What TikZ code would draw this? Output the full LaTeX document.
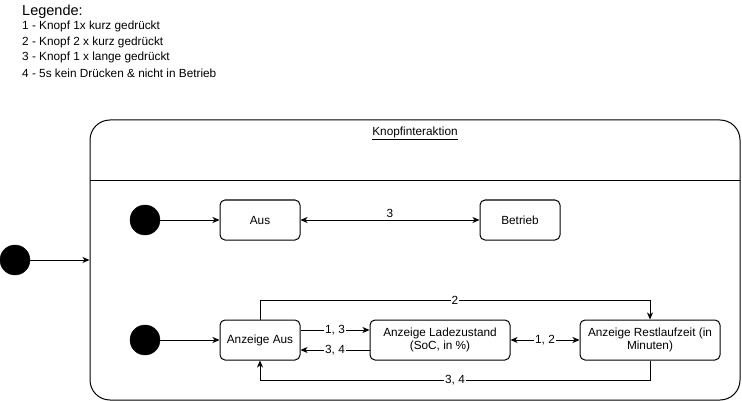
\documentclass[tikz,border=0pt]{standalone}
\usepackage{fontspec}
\setmainfont{Liberation Sans}
\usetikzlibrary{arrows.meta}
\begin{document}
\begin{tikzpicture}[x=1pt,y=-1pt,
  lw/.style={line width=1pt},
  txt/.style={font=\fontsize{11.8}{13.5}\selectfont},
  statebox/.style={draw, lw, txt, rounded corners=5pt, minimum width=80pt, minimum height=40pt, inner sep=0pt, align=center},
  widebox/.style={statebox, minimum width=140pt},
  startdot/.style={circle, fill=black, draw=black, minimum size=30pt, inner sep=0pt},
  conn/.style={lw, -{Stealth[length=7pt,width=6pt,inset=2pt]}},
  biconn/.style={lw, {Stealth[length=7pt,width=6pt,inset=2pt]}-{Stealth[length=7pt,width=6pt,inset=2pt]}},
  lbl/.style={fill=white, inner sep=1pt, txt},
  legtext/.style={anchor=west, inner sep=0pt, txt}
]
\useasboundingbox (0,0) rectangle (742,401);

% legend
\node[legtext, font=\fontsize{14.5}{16}\selectfont] (leg0) at (22,12) {Legende:};
\node[legtext] (leg1) at (22,26.5) {1 - Knopf 1x kurz gedrückt};
\node[legtext] (leg2) at (22,42) {2 - Knopf 2 x kurz gedrückt};
\node[legtext] (leg3) at (22,57.5) {3 - Knopf 1 x lange gedrückt};
\node[legtext] (leg4) at (22,73) {4 - 5s kein Drücken \& nicht in Betrieb};

% container
\node[draw, lw, rounded corners=20pt, minimum width=650pt, minimum height=280pt, inner sep=0pt] (cont) at (415,260) {};
\draw[lw] (90,181) -- (740,181);
\node[txt, inner sep=0pt] (title) at (415,133) {\underline{Knopfinteraktion}};

% outer start
\node[startdot] (s0) at (15,260) {};
\draw[conn] (s0) -- (cont.west);

% top region
\node[startdot] (s1) at (145,220) {};
\node[statebox] (aus) at (260,220) {Aus};
\node[statebox] (betrieb) at (520,220) {Betrieb};
\draw[conn] (s1) -- (aus);
\draw[biconn] (aus) -- node[above, inner sep=2pt, txt] {3} (betrieb);

% bottom region
\node[startdot] (s2) at (145,340) {};
\node[statebox] (aa) at (260,340) {Anzeige Aus};
\node[widebox] (lade) at (440,340) {Anzeige Ladezustand\\(SoC, in \%)};
\node[widebox] (rest) at (650,340) {Anzeige Restlaufzeit (in\\Minuten)};
\draw[conn] (s2) -- (aa);
\draw[conn] ([yshift=10pt]aa.east) -- node[lbl] {1, 3} ([yshift=10pt]lade.west);
\draw[conn] ([yshift=-10pt]lade.west) -- node[lbl] {3, 4} ([yshift=-10pt]aa.east);
\draw[biconn] (lade) -- node[lbl] {1, 2} (rest);
\coordinate (tl) at (260,300);
\coordinate (tr) at (650,300);
\draw[conn] (aa.north) -- (tl) -- node[lbl] {2} (tr) -- (rest.north);
\coordinate (bl) at (260,380);
\coordinate (br) at (650,380);
\draw[conn] (rest.south) -- (br) -- node[lbl] {3, 4} (bl) -- (aa.south);
\end{tikzpicture}
\end{document}
